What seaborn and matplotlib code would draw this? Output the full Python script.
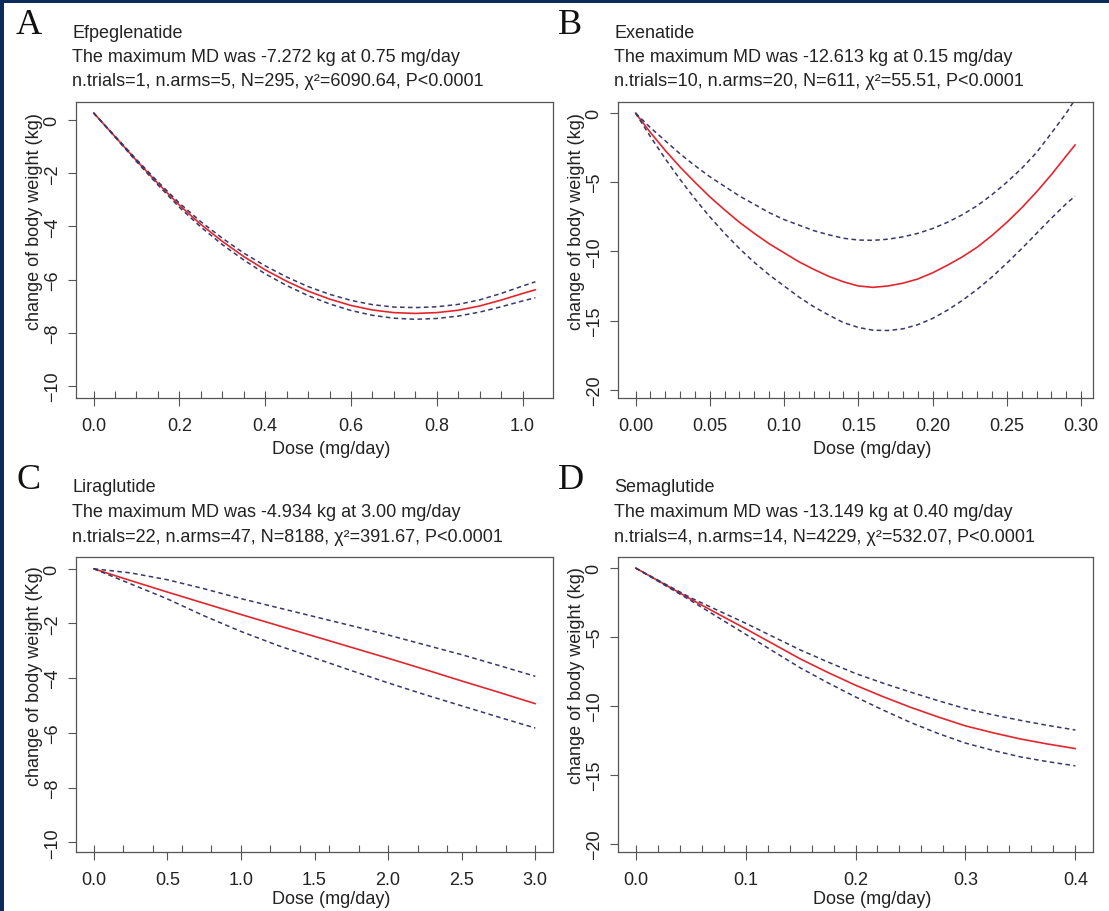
import numpy as np
import matplotlib
matplotlib.use("Agg")
import matplotlib.pyplot as plt
import seaborn as sns
from matplotlib.patches import Rectangle
from matplotlib.ticker import FixedLocator

# --- data ---
DRUGS = ["Efpeglenatide", "Exenatide", "Liraglutide", "Semaglutide"]
LETTERS = ["A", "B", "C", "D"]
MAX_MD = ["-7.272", "-12.613", "-4.934", "-13.149"]
MAX_DOSE = ["0.75", "0.15", "3.00", "0.40"]
N_TRIALS = [1, 10, 22, 4]
N_ARMS = [5, 20, 47, 14]
N_TOTAL = [295, 611, 8188, 4229]
CHI2 = ["6090.64", "55.51", "391.67", "532.07"]
Y_UNITS = ["kg", "kg", "Kg", "kg"]

# A: Efpeglenatide
DOSE_A = [0, 0.05, 0.1, 0.15, 0.2, 0.25, 0.3, 0.35, 0.4, 0.45, 0.5,
          0.55, 0.6, 0.65, 0.7, 0.75, 0.8, 0.85, 0.9, 0.95, 1.0, 1.03]
MD_A = [0.27, -0.62, -1.52, -2.38, -3.20, -3.92, -4.56, -5.13, -5.63, -6.06, -6.43,
        -6.73, -6.97, -7.14, -7.24, -7.27, -7.24, -7.15, -6.99, -6.77, -6.52, -6.38]
UP_A = [0.27, -0.60, -1.48, -2.32, -3.12, -3.82, -4.44, -5.00, -5.48, -5.90, -6.26,
        -6.55, -6.78, -6.94, -7.03, -7.05, -7.02, -6.93, -6.76, -6.52, -6.24, -6.08]
LO_A = [0.27, -0.64, -1.56, -2.44, -3.28, -4.02, -4.68, -5.26, -5.78, -6.22, -6.60,
        -6.91, -7.16, -7.34, -7.45, -7.49, -7.46, -7.37, -7.22, -7.02, -6.80, -6.68]

# B: Exenatide
DOSE_B = [0, 0.01, 0.02, 0.03, 0.04, 0.05, 0.06, 0.07, 0.08, 0.09, 0.10,
          0.11, 0.12, 0.13, 0.14, 0.15, 0.16, 0.17, 0.18, 0.19, 0.20,
          0.21, 0.22, 0.23, 0.24, 0.25, 0.26, 0.27, 0.28, 0.29, 0.296]
MD_B = [0, -1.4, -2.7, -3.9, -5.0, -6.05, -7.0, -7.9, -8.7, -9.45, -10.1,
        -10.75, -11.3, -11.8, -12.2, -12.5, -12.6, -12.5, -12.3, -12.0, -11.55,
        -11.0, -10.4, -9.7, -8.85, -7.9, -6.85, -5.7, -4.45, -3.1, -2.3]
UP_B = [0, -1.05, -2.0, -2.95, -3.8, -4.6, -5.3, -6.0, -6.6, -7.2, -7.7,
        -8.1, -8.5, -8.8, -9.05, -9.18, -9.2, -9.12, -8.95, -8.7, -8.35,
        -7.9, -7.35, -6.7, -5.9, -5.0, -4.0, -2.85, -1.45, 0.0, 1.0]
LO_B = [0, -1.7, -3.3, -4.8, -6.2, -7.5, -8.7, -9.8, -10.8, -11.7, -12.5,
        -13.3, -14.0, -14.6, -15.15, -15.5, -15.7, -15.72, -15.6, -15.3, -14.85,
        -14.25, -13.55, -12.75, -11.85, -10.85, -9.8, -8.7, -7.6, -6.55, -6.0]

# C: Liraglutide
DOSE_C = [0, 0.25, 0.5, 0.75, 1.0, 1.25, 1.5, 1.75, 2.0, 2.25, 2.5, 2.75, 3.0]
MD_C = [0, -0.43, -0.85, -1.26, -1.67, -2.07, -2.47, -2.87, -3.27, -3.68, -4.10, -4.51, -4.93]
UP_C = [0, -0.15, -0.40, -0.73, -1.09, -1.42, -1.75, -2.08, -2.42, -2.78, -3.14, -3.53, -3.93]
LO_C = [0, -0.55, -1.10, -1.72, -2.29, -2.80, -3.26, -3.72, -4.17, -4.60, -5.01, -5.42, -5.82]

# D: Semaglutide
DOSE_D = [0, 0.025, 0.05, 0.075, 0.1, 0.125, 0.15, 0.175, 0.2, 0.225, 0.25,
          0.275, 0.3, 0.325, 0.35, 0.375, 0.4]
MD_D = [0, -1.12, -2.25, -3.33, -4.4, -5.5, -6.6, -7.58, -8.5, -9.33, -10.1,
        -10.8, -11.45, -11.95, -12.4, -12.77, -13.1]
UP_D = [0, -1.08, -2.15, -3.08, -4.0, -4.98, -5.95, -6.82, -7.65, -8.35, -9.0,
        -9.62, -10.2, -10.65, -11.05, -11.42, -11.75]
LO_D = [0, -1.17, -2.35, -3.58, -4.8, -6.03, -7.25, -8.33, -9.35, -10.3, -11.2,
        -12.0, -12.7, -13.23, -13.7, -14.05, -14.35]

# --- style ---
W, H = 1109, 912
NAVY = "#0c2b58"
RED = "#e3262e"
BAND = "#38386a"
GREY = "#555555"
TXT = "#222222"

sns.set_theme(style="ticks")
plt.rcParams["font.family"] = ["Liberation Sans", "DejaVu Sans"]


def fx(x):
    return x / W


def fy(y):
    return 1 - y / H


fig = plt.figure(figsize=(W / 100, H / 100), dpi=100, facecolor=NAVY)
fig.add_artist(Rectangle((fx(4), 0), 1, fy(4), transform=fig.transFigure,
                         facecolor="white", edgecolor="none", zorder=-10))

# panel boxes in pixels: left, top, right, bottom
panels = [
    dict(box=(76, 103, 553, 399), dose=DOSE_A, md=MD_A, up=UP_A, lo=LO_A,
         xlim=(-0.041, 1.071), ylim=(-10.45, 0.68), major=0.2, rug=0.05, xmax=1.0,
         yticks=[0, -2, -4, -6, -8, -10], xlab_off=42),
    dict(box=(618, 103, 1093, 399), dose=DOSE_B, md=MD_B, up=UP_B, lo=LO_B,
         xlim=(-0.0118, 0.308), ylim=(-20.6, 0.8), major=0.05, rug=0.01, xmax=0.30,
         yticks=[0, -5, -10, -15, -20], xlab_off=42),
    dict(box=(76, 558, 553, 853), dose=DOSE_C, md=MD_C, up=UP_C, lo=LO_C,
         xlim=(-0.12, 3.12), ylim=(-10.35, 0.43), major=0.5, rug=0.2, xmax=3.0,
         yticks=[0, -2, -4, -6, -8, -10], xlab_off=38),
    dict(box=(618, 558, 1093, 853), dose=DOSE_D, md=MD_D, up=UP_D, lo=LO_D,
         xlim=(-0.016, 0.416), ylim=(-20.6, 0.8), major=0.1, rug=0.02, xmax=0.4,
         yticks=[0, -5, -10, -15, -20], xlab_off=38),
]

FS = 13

for i, p in enumerate(panels):
    l, t, r, b = p["box"]
    ax = fig.add_axes([fx(l), fy(b), (r - l) / W, (b - t) / H])
    ax.set_facecolor("white")

    sns.lineplot(x=p["dose"], y=p["md"], ax=ax, color=RED, linewidth=1.2)
    for band in (p["up"], p["lo"]):
        sns.lineplot(x=p["dose"], y=band, ax=ax, color=BAND, linewidth=1.1)
        ax.lines[-1].set_dashes([3, 2.2])

    ax.set_xlim(p["xlim"])
    ax.set_ylim(p["ylim"])
    majors = np.round(np.arange(0, p["xmax"] + 1e-9, p["major"]), 3)
    rugs = np.round(np.arange(0, p["xmax"] + 1e-9, p["rug"]), 3)
    ax.xaxis.set_major_locator(FixedLocator(majors))
    ax.xaxis.set_minor_locator(FixedLocator(rugs))
    ax.xaxis.remove_overlapping_locs = False
    ax.set_yticks(p["yticks"])
    fmt = "%.2f" if p["major"] < 0.1 else "%.1f"
    ax.set_xticklabels([fmt % v for v in majors])
    ax.set_yticklabels([("\u2212%d" % -v) if v < 0 else "%d" % v for v in p["yticks"]])

    ax.tick_params(axis="x", which="major", direction="out", length=5.5, width=0.8,
                   color=GREY, pad=8, labelsize=FS, labelcolor=TXT)
    ax.tick_params(axis="x", which="minor", direction="in", length=5, width=0.8, color=GREY)
    ax.tick_params(axis="y", which="major", direction="out", length=5.5, width=0.8,
                   color=GREY, pad=5.5, labelsize=FS, labelcolor=TXT, labelrotation=90)
    for lbl in ax.get_yticklabels():
        lbl.set_va("center")
    for sp in ax.spines.values():
        sp.set_visible(True)
        sp.set_color(GREY)
        sp.set_linewidth(0.9)

    ax.set_xlabel("Dose (mg/day)", fontsize=FS, color=TXT)
    ax.set_ylabel("change of body weight (%s)" % Y_UNITS[i], fontsize=FS, color=TXT)
    w_px, h_px = r - l, b - t
    ax.xaxis.set_label_coords(((r - l) / 2 + 17) / w_px, -p["xlab_off"] / h_px)
    ax.xaxis.label.set_va("top")
    ax.yaxis.set_label_coords(-33 / w_px, 0.6)

    # titles above each panel
    fig.text(fx(l - 60), fy(t - 69), LETTERS[i], fontsize=26, color="#111111",
             fontfamily=["Liberation Serif", "DejaVu Serif"], va="baseline")
    lines = [DRUGS[i],
             "The maximum MD was %s kg at %s mg/day" % (MAX_MD[i], MAX_DOSE[i]),
             "n.trials=%d, n.arms=%d, N=%d, \u03c7\u00b2=%s, P<0.0001"
             % (N_TRIALS[i], N_ARMS[i], N_TOTAL[i], CHI2[i])]
    for k, txt in enumerate(lines):
        fig.text(fx(l - 4), fy(t - 65.5 + 24.5 * k), txt, fontsize=FS, color=TXT,
                 va="baseline")

fig.savefig("out.png", dpi=100, facecolor=NAVY)
